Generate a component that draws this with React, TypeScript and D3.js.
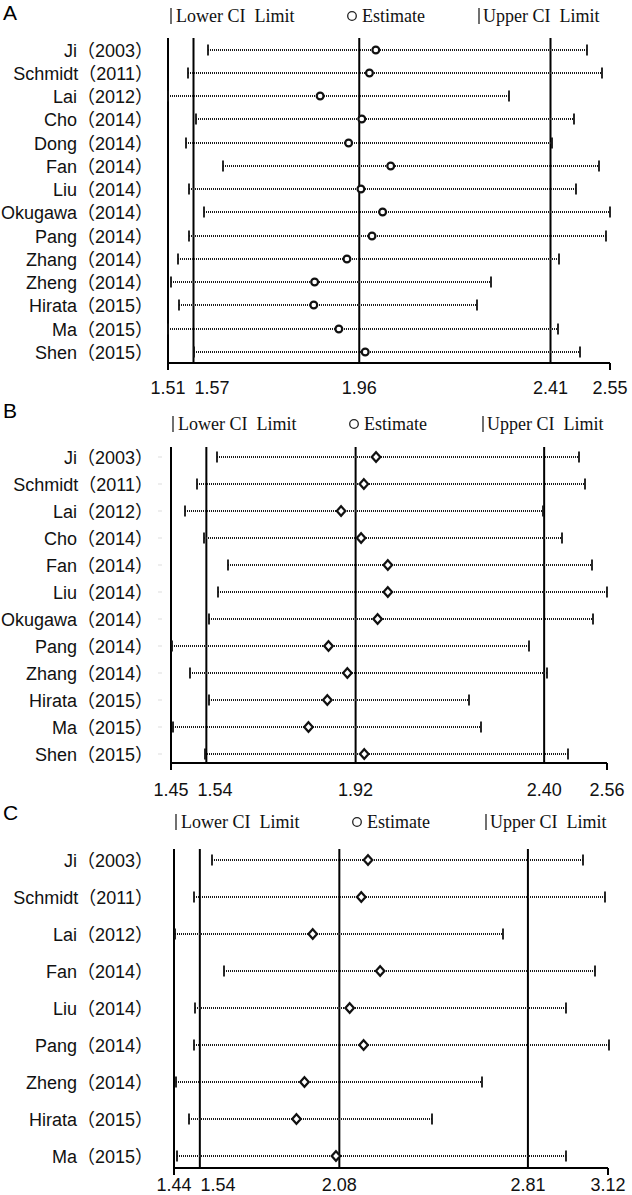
import React from "react";
import * as d3 from "d3";

// ---------- DATA ----------
const studiesA = ["Ji（2003）", "Schmidt（2011）", "Lai（2012）", "Cho（2014）", "Dong（2014）", "Fan（2014）", "Liu（2014）", "Okugawa（2014）", "Pang（2014）", "Zhang（2014）", "Zheng（2014）", "Hirata（2015）", "Ma（2015）", "Shen（2015）"];
const lowerA = [1.603, 1.558, 1.510, 1.576, 1.553, 1.639, 1.560, 1.595, 1.560, 1.534, 1.516, 1.537, 1.510, 1.571];
const estA = [1.999, 1.984, 1.868, 1.966, 1.935, 2.034, 1.964, 2.015, 1.990, 1.931, 1.855, 1.853, 1.912, 1.974];
const upperA = [2.496, 2.531, 2.312, 2.466, 2.414, 2.524, 2.471, 2.549, 2.541, 2.430, 2.271, 2.238, 2.427, 2.479];
const ticksA = [1.51, 1.57, 1.96, 2.41, 2.55];

const studiesB = ["Ji（2003）", "Schmidt（2011）", "Lai（2012）", "Cho（2014）", "Fan（2014）", "Liu（2014）", "Okugawa（2014）", "Pang（2014）", "Zhang（2014）", "Hirata（2015）", "Ma（2015）", "Shen（2015）"];
const lowerB = [1.566, 1.515, 1.486, 1.533, 1.595, 1.569, 1.548, 1.452, 1.498, 1.548, 1.455, 1.536];
const estB = [1.972, 1.941, 1.883, 1.934, 2.002, 2.002, 1.976, 1.851, 1.899, 1.848, 1.800, 1.942];
const upperB = [2.488, 2.503, 2.397, 2.445, 2.522, 2.559, 2.525, 2.362, 2.407, 2.208, 2.239, 2.461];
const ticksB = [1.45, 1.54, 1.92, 2.40, 2.56];

const studiesC = ["Ji（2003）", "Schmidt（2011）", "Lai（2012）", "Fan（2014）", "Liu（2014）", "Pang（2014）", "Zheng（2014）", "Hirata（2015）", "Ma（2015）"];
const lowerC = [1.587, 1.516, 1.443, 1.635, 1.521, 1.516, 1.446, 1.497, 1.452];
const estC = [2.191, 2.165, 1.977, 2.238, 2.120, 2.174, 1.945, 1.914, 2.067];
const upperC = [3.023, 3.109, 2.713, 3.069, 2.959, 3.122, 2.631, 2.440, 2.959];
const ticksC = [1.44, 1.54, 2.08, 2.81, 3.12];

const panelLetters = ["A", "B", "C"];
const legendLower = "Lower CI  Limit";
const legendEst = "Estimate";
const legendUpper = "Upper CI  Limit";

// ---------- LAYOUT ----------
const W = 632;
const H = 1195;
const SANS = "'Liberation Sans', Arial, 'Noto Sans CJK SC', sans-serif";
const SERIF = "'Liberation Serif', 'Times New Roman', serif";

type Layout = {
  letterY: number; legendY: number; top: number; axisY: number;
  x0: number; x1: number; yFirst: number; yLast: number; labelY: number;
  marker: "circle" | "diamond"; legX: [number, number, number]; faintTicks: boolean;
};

const layouts: Layout[] = [
  { letterY: 20, legendY: 22, top: 38, axisY: 363, x0: 168, x1: 610, yFirst: 49.5, yLast: 352, labelY: 394, marker: "circle", legX: [171, 352, 479], faintTicks: false },
  { letterY: 418, legendY: 430, top: 447, axisY: 763, x0: 171, x1: 607, yFirst: 456.5, yLast: 753.5, labelY: 796, marker: "diamond", legX: [173, 354, 483], faintTicks: true },
  { letterY: 820, legendY: 828, top: 849, axisY: 1168, x0: 174, x1: 608, yFirst: 860, yLast: 1156, labelY: 1191, marker: "diamond", legX: [176, 357, 486], faintTicks: false },
];

const panels = [
  { studies: studiesA, lower: lowerA, est: estA, upper: upperA, ticks: ticksA },
  { studies: studiesB, lower: lowerB, est: estB, upper: upperB, ticks: ticksB },
  { studies: studiesC, lower: lowerC, est: estC, upper: upperC, ticks: ticksC },
];

function tickLabelPositions(xs: number[], w: number): number[] {
  const out: number[] = [];
  xs.forEach((x, i) => {
    if (i === 0) out.push(x);
    else out.push(Math.max(x, out[i - 1] + w));
  });
  return out;
}

function Panel({ idx }: { idx: number }) {
  const L = layouts[idx];
  const P = panels[idx];
  const ticks = P.ticks;
  const x = d3.scaleLinear().domain([ticks[0], ticks[ticks.length - 1]]).range([L.x0, L.x1]);
  const y = d3.scalePoint<string>().domain(P.studies).range([L.yFirst, L.yLast]);
  const fmt = d3.format(".2f");
  const labelX = tickLabelPositions(ticks.map((t) => x(t)), 44);
  const refLines = ticks.slice(1, 4);
  const barH = 5.5;

  return (
    <g>
      <text x={3} y={L.letterY} fontFamily={SANS} fontSize={21}>{panelLetters[idx]}</text>
      {/* legend */}
      <g fontFamily={SERIF} fontSize={18} fill="#111">
        <line x1={L.legX[0]} x2={L.legX[0]} y1={L.legendY - 14} y2={L.legendY + 2} stroke="#111" strokeWidth={1.2} />
        <text x={L.legX[0] + 5} y={L.legendY} style={{ whiteSpace: "pre" }}>{legendLower}</text>
        <circle cx={L.legX[1]} cy={L.legendY - 6} r={4.3} fill="none" stroke="#222" strokeWidth={1.3} />
        <text x={L.legX[1] + 10} y={L.legendY}>{legendEst}</text>
        <line x1={L.legX[2]} x2={L.legX[2]} y1={L.legendY - 14} y2={L.legendY + 2} stroke="#111" strokeWidth={1.2} />
        <text x={L.legX[2] + 4} y={L.legendY} style={{ whiteSpace: "pre" }}>{legendUpper}</text>
      </g>
      {/* axes */}
      <line x1={x(ticks[0])} x2={x(ticks[0])} y1={L.top} y2={L.axisY + 7} stroke="#000" strokeWidth={2} />
      <line x1={x(ticks[0])} x2={x(ticks[ticks.length - 1])} y1={L.axisY} y2={L.axisY} stroke="#000" strokeWidth={2} />
      <line x1={x(ticks[ticks.length - 1])} x2={x(ticks[ticks.length - 1])} y1={L.axisY} y2={L.axisY + 7} stroke="#000" strokeWidth={2} />
      {refLines.map((t, i) => (
        <line key={i} x1={x(t)} x2={x(t)} y1={L.top} y2={L.axisY} stroke="#000" strokeWidth={2} />
      ))}
      {ticks.map((t, i) => (
        <text key={i} x={labelX[i]} y={L.labelY} textAnchor="middle" fontFamily={SANS} fontSize={18} fill="#111">{fmt(t)}</text>
      ))}
      {/* rows */}
      {P.studies.map((s, i) => {
        const yy = Math.round(y(s) as number);
        const xl = Math.round(x(P.lower[i]));
        const xu = Math.round(x(P.upper[i]));
        const xe = x(P.est[i]);
        return (
          <g key={s}>
            <text x={153} y={yy + 6.5} textAnchor="end" fontFamily={SANS} fontSize={18} fill="#111">{s}</text>
            {L.faintTicks && <line x1={158} x2={162} y1={yy} y2={yy} stroke="#ddd" strokeWidth={1} />}
            <line x1={xl} x2={xu} y1={yy} y2={yy} stroke="#1a1a1a" strokeWidth={2} strokeDasharray="1,1" />
            <line x1={xl} x2={xl} y1={yy - barH} y2={yy + barH} stroke="#111" strokeWidth={1.8} />
            <line x1={xu} x2={xu} y1={yy - barH} y2={yy + barH} stroke="#111" strokeWidth={1.8} />
            {L.marker === "circle" ? (
              <circle cx={xe} cy={yy} r={3.4} fill="#fff" stroke="#111" strokeWidth={2.2} />
            ) : (
              <path d={`M${xe},${yy - 4.8}L${xe + 4.3},${yy}L${xe},${yy + 4.8}L${xe - 4.3},${yy}Z`} fill="#fff" stroke="#111" strokeWidth={2.2} />
            )}
          </g>
        );
      })}
    </g>
  );
}

export default function App() {
  return (
    <svg width={W} height={H} viewBox={`0 0 ${W} ${H}`} style={{ position: "absolute", left: 0, top: 0, background: "#fff" }}>
      <rect width={W} height={H} fill="#fff" />
      {panels.map((_, i) => <Panel key={i} idx={i} />)}
    </svg>
  );
}
